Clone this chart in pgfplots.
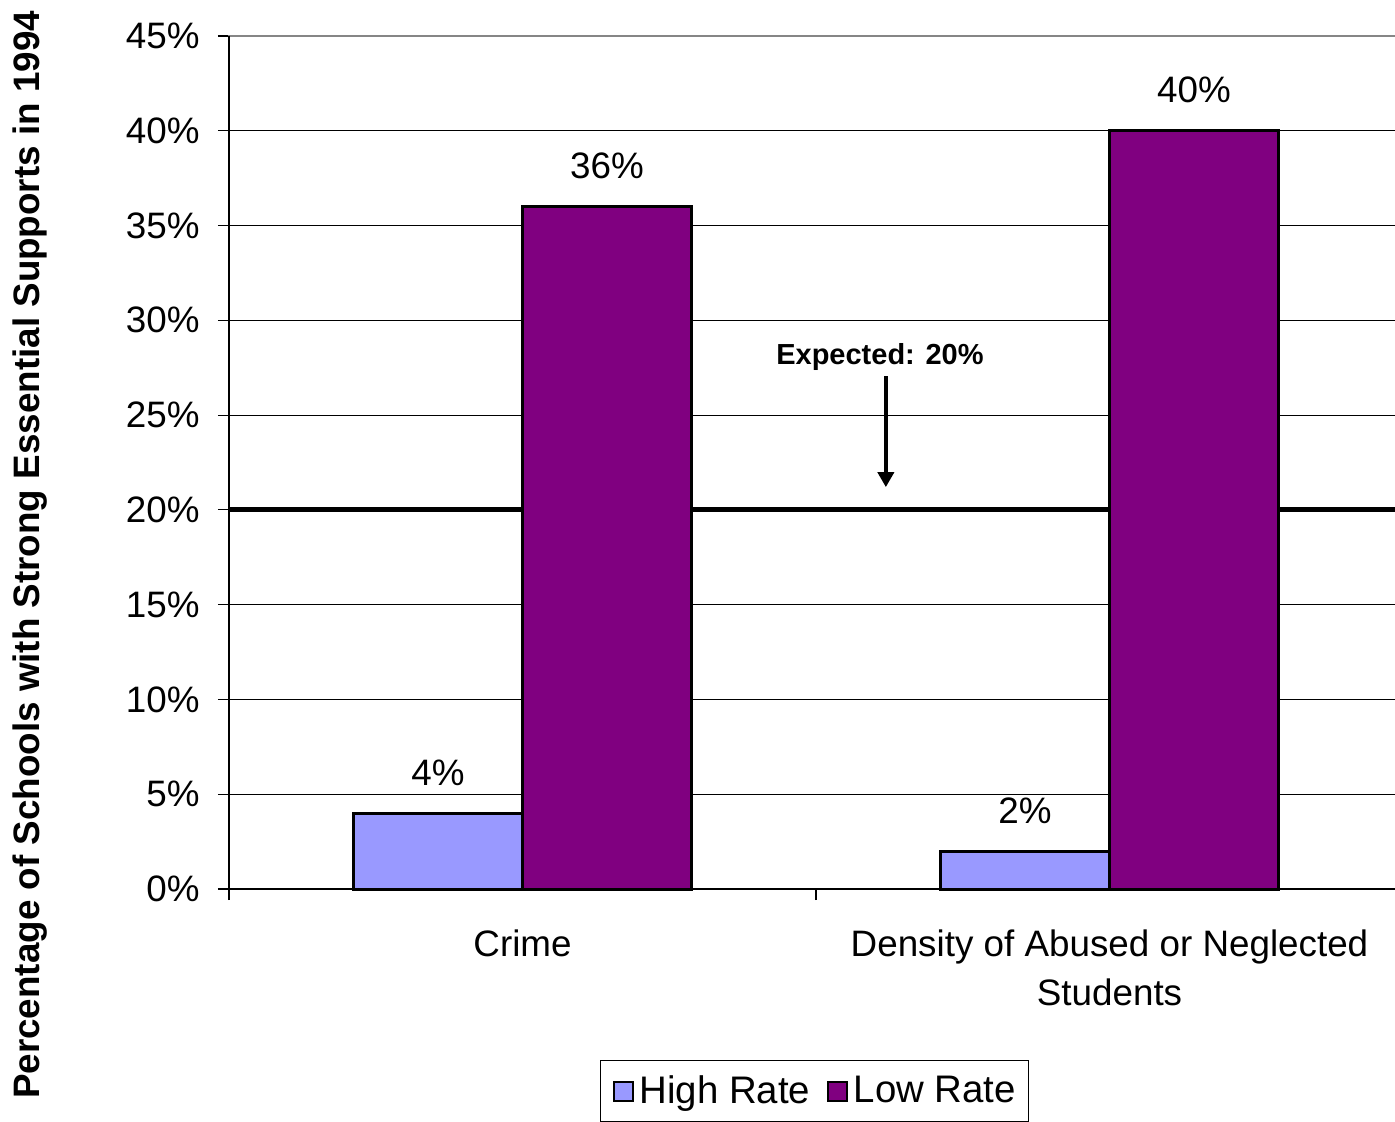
\documentclass[border=0pt]{standalone}
\usepackage{fontspec}
\setmainfont{Liberation Sans}
\usepackage{pgfplots}
\pgfplotsset{compat=1.18}
\usetikzlibrary{arrows.meta}
\definecolor{highc}{RGB}{153,153,255}
\definecolor{lowc}{RGB}{128,0,128}
\definecolor{axgray}{RGB}{134,134,134}
\newcommand{\nf}{\fontsize{18.4}{24.5}\selectfont}
\newcommand{\lf}{\fontsize{19.2}{23}\selectfont}
\begin{document}
\begin{tikzpicture}
\begin{scope}
\clip (-114.5pt,-116.5pt) rectangle (583pt,444.5pt);
\begin{axis}[
  scale only axis,
  width=587pt, height=426.5pt,
  xmin=0, xmax=2, ymin=0, ymax=45,
  clip=false,
  axis line style={axgray, line width=1.35pt},
  tick pos=left,
  tick align=outside,
  major tick length=5.5pt,
  tick style={black, line width=0.6pt},
  xtick={0,1,2}, xticklabels={},
  extra x ticks={0.5,1.5},
  extra x tick labels={Crime, Density of Abused or Neglected\\Students},
  extra x tick style={major tick length=0pt, grid=none,
     tick label style={align=center, font=\nf, anchor=north, inner sep=0pt, yshift=-20pt}},
  ytick={0,5,...,45},
  yticklabel={\pgfmathprintnumber{\tick}\%},
  /pgf/number format/assume math mode=true,
  yticklabel style={font=\nf, anchor=east, inner sep=0pt, xshift=-9pt},
  ymajorgrids,
  major grid style={black, line width=0.5pt},
  ylabel={Percentage of Schools with Strong Essential Supports in 1994},
  ylabel style={font=\bfseries\fontsize{18.4}{22}\selectfont, at={(axis description cs:-0.1695,0.3916)}, anchor=center},
  legend style={at={(axis description cs:0.316,-0.2005)}, anchor=north west,
     draw=black, line width=0.6pt, font=\lf, inner xsep=3.5pt, inner ysep=5.5pt,
     nodes={inner xsep=2.75pt},
     legend columns=-1,
     /tikz/every even column/.append style={column sep=3pt}},
  legend image code/.code={\path (0pt,0pt); \draw[#1, line width=1pt, draw=black] (2.5pt,-4.75pt) rectangle (12pt,4.75pt);},
]
\addplot[black, line width=2.5pt, sharp plot, forget plot] coordinates {(0,20) (2,20)};
\addplot[ybar, bar width=84.5pt, bar shift=-42.25pt, fill=highc, draw=black, line width=1.5pt,
  nodes near coords={\pgfmathprintnumber{\pgfplotspointmeta}\%},
  every node near coord/.append style={font=\nf, anchor=base, inner sep=0pt, yshift=14pt, xshift=-42.25pt}]
  coordinates {(0.5,4) (1.5,2)};
\addplot[ybar, bar width=84.5pt, bar shift=42.25pt, fill=lowc, draw=black, line width=1.5pt,
  nodes near coords={\pgfmathprintnumber{\pgfplotspointmeta}\%},
  every node near coord/.append style={font=\nf, anchor=base, inner sep=0pt, yshift=14pt, xshift=42.25pt}]
  coordinates {(0.5,36) (1.5,40)};
\legend{High Rate, Low Rate}
\draw[black, line width=0.75pt] (rel axis cs:0,1) -- (rel axis cs:0,0) -- (rel axis cs:1,0);
\node[font=\bfseries\fontsize{14.5}{17}\selectfont] at (axis cs:1.109,28.07) {Expected: 20\%};
\draw[-{Triangle[width=8pt,length=7.5pt]}, line width=2pt] (axis cs:1.119,27.06) -- (axis cs:1.119,21.2);
\end{axis}
\end{scope}
\useasboundingbox (-114.5pt,-116.5pt) rectangle (583pt,444.5pt);
\end{tikzpicture}
\end{document}
